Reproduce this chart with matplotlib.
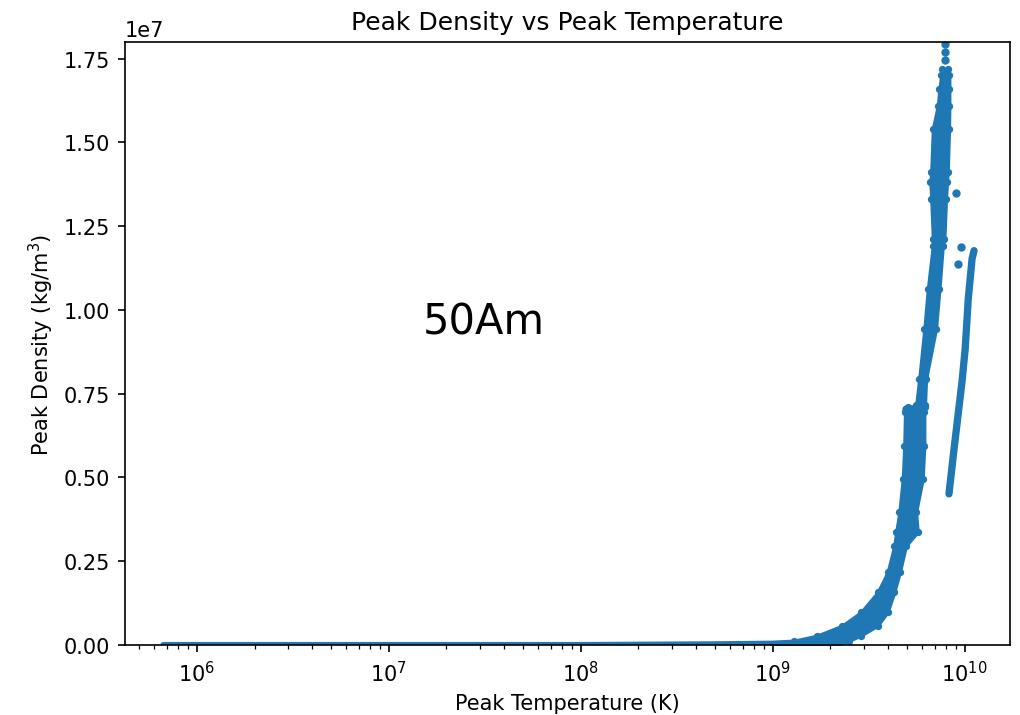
import matplotlib
matplotlib.use('Agg')
import matplotlib.pyplot as plt
from matplotlib.ticker import MultipleLocator

# flat part of the cloud, density ~ 0
flat_T = [6.7e5, 1e6, 1e7, 1e8, 4.7e8, 1.0e9, 1.5e9]
flat_rho = [0, 0, 0, 0, 2e4, 4e4, 9e4]

# main branch: density levels with the cool / hot edge of the cloud
band_rho = [0, 1.28e5, 2.78e5, 5.76e5, 9.77e5, 1.57e6, 2.17e6, 2.96e6, 3.37e6,
            3.96e6, 4.96e6, 5.95e6, 6.95e6, 7.10e6, 7.15e6, 7.94e6, 9.44e6, 1.063e7,
            1.192e7, 1.212e7, 1.332e7, 1.382e7, 1.412e7, 1.541e7, 1.610e7, 1.660e7,
            1.700e7, 1.720e7]
band_T_lo = [1.0e9, 1.29e9, 1.7e9, 2.3e9, 2.88e9, 3.52e9, 3.97e9, 4.30e9, 4.40e9,
             4.57e9, 4.76e9, 4.85e9, 4.89e9, 5.05e9, 5.59e9, 5.80e9, 6.17e9, 6.43e9,
             6.83e9, 6.83e9, 6.70e9, 6.63e9, 6.70e9, 6.83e9, 7.25e9, 7.39e9,
             7.55e9, 7.65e9]
band_T_hi = [2.18e9, 2.5e9, 2.88e9, 3.52e9, 3.97e9, 4.30e9, 4.60e9, 4.95e9, 5.70e9,
             5.59e9, 6.05e9, 6.17e9, 6.17e9, 6.20e9, 6.22e9, 6.30e9, 7.10e9, 7.40e9,
             7.70e9, 7.85e9, 8.00e9, 8.10e9, 8.17e9, 8.30e9, 8.33e9, 8.33e9,
             8.33e9, 8.20e9]

# second (hotter) branch, centre line
branch_T = [8.29e9, 8.81e9, 9.69e9, 1.007e10, 1.045e10, 1.094e10, 1.12e10]
branch_rho = [4.51e6, 5.85e6, 7.85e6, 8.84e6, 1.033e7, 1.153e7, 1.177e7]

# isolated points
dots_T = [9.06e9, 9.58e9, 9.22e9, 7.95e9, 7.90e9, 7.88e9, 4.95e9]
dots_rho = [1.35e7, 1.188e7, 1.138e7, 1.795e7, 1.77e7, 1.745e7, 7.05e6]

c = '#1f77b4'

fig = plt.figure(figsize=(6.8, 4.7733), dpi=150)
ax = fig.add_axes([0.1225, 0.0978, 0.8676, 0.8422])

ax.plot(flat_T, flat_rho, '-', color=c, lw=2.9, solid_capstyle='round')
ax.fill_betweenx(band_rho, band_T_lo, band_T_hi, facecolor=c, edgecolor=c, lw=1.5)
ax.plot(band_T_lo, band_rho, '.', color=c, ms=5)
ax.plot(band_T_hi, band_rho, '.', color=c, ms=5)
ax.plot(branch_T, branch_rho, '-', color=c, lw=3.5, solid_capstyle='round')
ax.plot(dots_T, dots_rho, '.', color=c)

ax.set_xscale('log')
ax.set_xlim(10**5.626, 10**10.236)
ax.set_ylim(0, 1.8e7)
ax.yaxis.set_major_locator(MultipleLocator(0.25e7))
ax.text(1.5e7, 9.3e6, '50Am', fontsize=20)
ax.set_title('Peak Density vs Peak Temperature')
ax.set_xlabel('Peak Temperature (K)')
ax.set_ylabel('Peak Density (kg/m$^3$)')

fig.savefig('out.png', dpi=150)
